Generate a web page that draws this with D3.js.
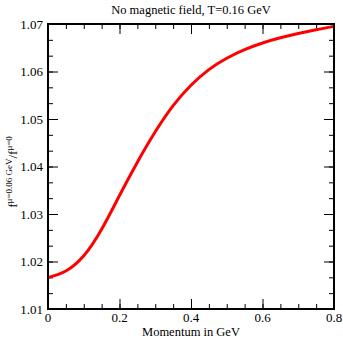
<!DOCTYPE html>
<html>
<head>
<meta charset="utf-8">
<script src="https://cdn.jsdelivr.net/npm/d3@7"></script>
<style>
  body { margin: 0; background: #fff; }
  text { font-family: "Liberation Serif", "DejaVu Serif", serif; fill: #000; }
</style>
</head>
<body>
<script>
// momentum (GeV) and ratio
const momentum = [0, 0.05, 0.1, 0.15, 0.2, 0.25, 0.3, 0.35, 0.4, 0.45, 0.5, 0.55, 0.6, 0.65, 0.7, 0.75, 0.8];
const ratio = [1.0166, 1.0180, 1.0212, 1.0268, 1.0339, 1.0409, 1.0473, 1.0528, 1.0571, 1.0604, 1.0628, 1.0646, 1.0660, 1.0671, 1.0680, 1.0688, 1.0695];
const xTicks = [0, 0.2, 0.4, 0.6, 0.8];
const yTicks = [1.01, 1.02, 1.03, 1.04, 1.05, 1.06, 1.07];

const w = 343, h = 338;
const pLeft = 48, pRight = 334, pTop = 24, pBottom = 309;

const svg = d3.select("body").append("svg")
    .attr("width", w)
    .attr("height", h);

const xScale = d3.scaleLinear().domain([0, 0.8]).range([pLeft, pRight]);
const yScale = d3.scaleLinear().domain([1.01, 1.07]).range([pBottom, pTop]);

// minor ticks
const xMinor = d3.range(0, 0.8001, 0.05);
const yMinor = d3.range(0, 19).map(i => 1.01 + i * 0.01 / 3);

const axes = svg.append("g");

// bottom / top
axes.append("g").attr("transform", "translate(0," + pBottom + ")")
    .call(d3.axisTop(xScale).tickValues(xMinor).tickSize(5).tickFormat(""));
axes.append("g").attr("transform", "translate(0," + pBottom + ")")
    .call(d3.axisTop(xScale).tickValues(xTicks).tickSize(10).tickFormat(""));
axes.append("g").attr("transform", "translate(0," + pTop + ")")
    .call(d3.axisBottom(xScale).tickValues(xMinor).tickSize(5).tickFormat(""));
axes.append("g").attr("transform", "translate(0," + pTop + ")")
    .call(d3.axisBottom(xScale).tickValues(xTicks).tickSize(10).tickFormat(""));
// left / right
axes.append("g").attr("transform", "translate(" + pLeft + ",0)")
    .call(d3.axisRight(yScale).tickValues(yMinor).tickSize(5).tickFormat(""));
axes.append("g").attr("transform", "translate(" + pLeft + ",0)")
    .call(d3.axisRight(yScale).tickValues(yTicks).tickSize(10).tickFormat(""));
axes.append("g").attr("transform", "translate(" + pRight + ",0)")
    .call(d3.axisLeft(yScale).tickValues(yMinor).tickSize(5).tickFormat(""));
axes.append("g").attr("transform", "translate(" + pRight + ",0)")
    .call(d3.axisLeft(yScale).tickValues(yTicks).tickSize(10).tickFormat(""));

axes.selectAll(".domain").remove();
axes.selectAll(".tick line").attr("stroke", "#000").attr("stroke-width", 1);

// tick labels
svg.selectAll(".xlab").data(xTicks).enter().append("text")
    .attr("class", "xlab")
    .attr("x", d => xScale(d))
    .attr("y", 322)
    .attr("text-anchor", "middle")
    .attr("font-size", 13)
    .text(d => d === 0 ? "0" : d3.format(".1f")(d));

svg.selectAll(".ylab").data(yTicks).enter().append("text")
    .attr("class", "ylab")
    .attr("x", 43)
    .attr("y", d => yScale(d) + 4.5)
    .attr("text-anchor", "end")
    .attr("font-size", 13)
    .text(d => d3.format(".2f")(d));

// curve
const line = d3.line()
    .x((d, i) => xScale(momentum[i]))
    .y(d => yScale(d))
    .curve(d3.curveNatural);

svg.append("path")
    .datum(ratio)
    .attr("d", line)
    .attr("fill", "none")
    .attr("stroke", "#ff0000")
    .attr("stroke-width", 3);

// frame
svg.append("rect")
    .attr("x", pLeft)
    .attr("y", pTop)
    .attr("width", pRight - pLeft)
    .attr("height", pBottom - pTop)
    .attr("fill", "none")
    .attr("stroke", "#000")
    .attr("stroke-width", 2);

// title and axis labels
svg.append("text")
    .attr("x", (pLeft + pRight) / 2)
    .attr("y", 14)
    .attr("text-anchor", "middle")
    .attr("font-size", 12.5)
    .text("No magnetic field, T=0.16 GeV");

svg.append("text")
    .attr("x", (pLeft + pRight) / 2)
    .attr("y", 336)
    .attr("text-anchor", "middle")
    .attr("font-size", 12.5)
    .text("Momentum in GeV");

const yl = svg.append("text")
    .attr("transform", "translate(17," + 172 + ")rotate(-90)")
    .attr("text-anchor", "middle")
    .attr("font-size", 13);
yl.append("tspan").text("f");
yl.append("tspan").attr("dy", -5).attr("font-size", 9).text("μ=0.06 GeV");
yl.append("tspan").attr("dy", 5).text("/f");
yl.append("tspan").attr("dy", -5).attr("font-size", 9).text("μ=0");
</script>
</body>
</html>
